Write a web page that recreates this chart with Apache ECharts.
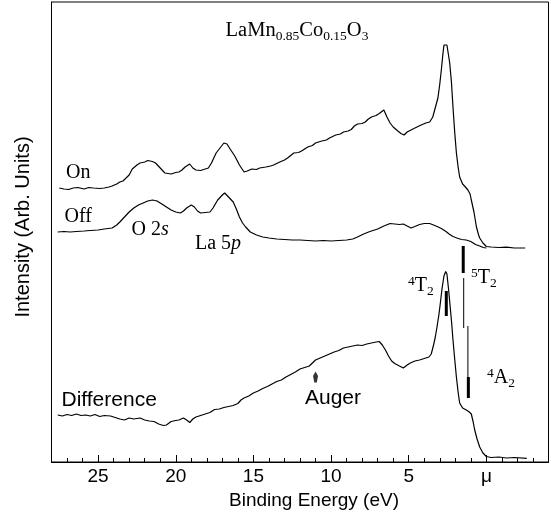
<!DOCTYPE html>
<html>
<head>
<meta charset="utf-8">
<script src="https://cdn.jsdelivr.net/npm/echarts@6/dist/echarts.min.js"></script>
<style>
  html, body { margin: 0; padding: 0; background: #fff; }
  #chart { width: 551px; height: 520px; }
</style>
</head>
<body>
<div id="chart"></div>
<script>
// binding energy (eV), intensity (arb. units, curves offset as in the figure)
const onSpectrum = [
  [27.5, 274], [27.2, 273], [26.9, 272.5], [26.6, 274], [26.3, 274.5], [25.9, 273], [25.6, 274.5],
  [25.3, 274], [24.9, 273.5], [24.6, 274], [24.3, 275], [24.1, 276], [23.8, 278], [23.6, 280],
  [23.4, 281], [23.2, 284], [23.0, 287], [22.8, 293], [22.5, 297], [22.3, 299], [22.0, 300],
  [21.8, 301.5], [21.5, 300.5], [21.3, 299], [21.0, 294], [20.7, 289], [20.5, 288.5], [20.3, 288],
  [20.0, 289.5], [19.8, 290], [19.6, 292], [19.4, 295], [19.1, 298], [18.9, 294], [18.7, 292],
  [18.4, 291.5], [18.2, 292.5], [17.9, 294], [17.7, 299], [17.4, 309], [17.1, 315], [16.9, 319],
  [16.7, 318], [16.5, 313], [16.2, 306], [15.9, 297], [15.6, 290], [15.4, 291], [15.1, 293],
  [14.8, 292.5], [14.6, 294], [14.2, 295], [13.9, 296], [13.7, 297], [13.3, 300], [13.0, 302],
  [12.8, 304], [12.4, 309], [12.1, 309.5], [11.9, 311], [11.5, 315], [11.2, 316.5], [11.0, 319],
  [10.6, 321], [10.3, 322], [10.1, 324], [9.7, 327], [9.4, 328], [9.2, 330], [8.9, 331],
  [8.7, 332.5], [8.5, 336], [8.3, 338], [8.0, 338.5], [7.8, 340], [7.6, 343], [7.4, 345],
  [7.1, 346.5], [6.9, 348.5], [6.6, 352], [6.4, 345], [6.2, 339], [6.0, 335], [5.7, 331],
  [5.5, 328.5], [5.3, 327], [5.1, 330], [5.0, 332], [4.6, 334], [4.2, 337], [3.9, 339],
  [3.65, 340], [3.45, 345], [3.33, 352], [3.12, 364], [3.0, 378], [2.9, 392], [2.8, 408],
  [2.73, 417], [2.64, 419], [2.54, 417], [2.45, 408], [2.36, 399], [2.25, 380], [2.15, 355],
  [2.04, 330], [1.93, 309], [1.82, 295], [1.72, 285], [1.53, 278], [1.35, 275], [1.19, 272],
  [1.05, 268], [0.97, 262], [0.8, 250], [0.64, 235], [0.5, 227], [0.43, 224], [0.22, 219],
  [0, 215.5], [-0.3, 215], [-0.8, 214.5], [-1.3, 214.8], [-1.8, 214], [-2.5, 214]
];

const offSpectrum = [
  [27.6, 230], [27.2, 230.5], [26.8, 230], [26.4, 230.5], [25.9, 231], [25.5, 231.5], [25.0, 232],
  [24.6, 233], [24.1, 234], [23.8, 237], [23.6, 240], [23.3, 245], [23.0, 250], [22.7, 254],
  [22.4, 257], [22.1, 259], [21.8, 261], [21.5, 262], [21.2, 261], [20.9, 258], [20.6, 255],
  [20.3, 252], [20.0, 250], [19.7, 249], [19.5, 251], [19.3, 254], [19.0, 257], [18.8, 255],
  [18.6, 251], [18.4, 249], [18.1, 249.5], [17.8, 250], [17.6, 254], [17.3, 262], [17.0, 267],
  [16.85, 269], [16.6, 265], [16.3, 260], [16.1, 253], [15.9, 245], [15.7, 239], [15.5, 235],
  [15.2, 230], [14.8, 227], [14.4, 225], [14.0, 224], [13.5, 223], [13.0, 222.5], [12.5, 222],
  [12.0, 222], [11.5, 221.5], [11.0, 221], [10.5, 221.5], [10.0, 221], [9.5, 221.5], [9.0, 222],
  [8.6, 223], [8.3, 225], [7.9, 228], [7.5, 230.5], [7.0, 233], [6.6, 236], [6.2, 238.5],
  [5.9, 238], [5.6, 237.5], [5.35, 238], [5.1, 236], [4.85, 234], [4.6, 235.5], [4.3, 237.5],
  [4.0, 238.5], [3.65, 238.5], [3.4, 237], [3.1, 235], [2.9, 233.5], [2.6, 230.5], [2.4, 228],
  [2.15, 225.5], [1.9, 224], [1.6, 222.5], [1.3, 222], [1.0, 220.5], [0.7, 217.5], [0.43, 216],
  [0.2, 214.5], [0, 214]
];

const differenceSpectrum = [
  [27.6, 47], [27.3, 46], [27.0, 47.5], [26.7, 46.5], [26.4, 48], [26.1, 46.5], [25.8, 47],
  [25.5, 46], [25.2, 47.5], [24.9, 45.5], [24.6, 46.5], [24.2, 46], [23.9, 44.5], [23.6, 43],
  [23.3, 42], [23.0, 44], [22.7, 43], [22.3, 44], [22.0, 42], [21.7, 41], [21.4, 40.5],
  [21.1, 38], [20.8, 36.5], [20.6, 37], [20.3, 40.5], [20.0, 41.5], [19.8, 42], [19.5, 44],
  [19.3, 42], [19.1, 39.5], [18.9, 43], [18.7, 45], [18.4, 46.5], [18.1, 48], [17.8, 49.5],
  [17.5, 52.5], [17.2, 53], [16.9, 54.5], [16.6, 55.5], [16.3, 56.5], [16.0, 58.5], [15.8, 62],
  [15.6, 64], [15.3, 66], [15.0, 69], [14.7, 71], [14.4, 73.5], [14.1, 75.5], [13.8, 78],
  [13.5, 80.5], [13.2, 82], [12.9, 85], [12.6, 87.5], [12.3, 90], [12.0, 93], [11.7, 94.5],
  [11.4, 96], [11.0, 102], [10.7, 104], [10.4, 106], [10.1, 108], [9.8, 110], [9.5, 111.5],
  [9.2, 114], [8.9, 115], [8.6, 116], [8.3, 117], [8.0, 116.5], [7.7, 118], [7.4, 119],
  [7.1, 120], [6.9, 120.5], [6.7, 117], [6.5, 112], [6.3, 106], [6.1, 101], [5.9, 98.5],
  [5.6, 96], [5.35, 94], [5.1, 97], [4.9, 99], [4.6, 101], [4.3, 102], [4.0, 103.5], [3.7, 105],
  [3.55, 108], [3.4, 117], [3.3, 124], [3.2, 133], [3.05, 148], [2.94, 162], [2.85, 174],
  [2.73, 186], [2.62, 190.5], [2.54, 188], [2.43, 172], [2.33, 155], [2.24, 140], [2.15, 122],
  [2.04, 103], [1.93, 85], [1.82, 70], [1.72, 59], [1.53, 54], [1.29, 52], [1.1, 50], [0.97, 48],
  [0.85, 40], [0.75, 32], [0.6, 23], [0.43, 15], [0.22, 9], [0, 5.5], [-0.3, 4.5], [-0.8, 5],
  [-1.3, 4], [-1.8, 4.5], [-2.6, 3.7]
];

// multiplet positions (eV) drawn as vertical bars
const bar4T2 = [[2.58, 171], [2.58, 146]];
const bar5T2 = [[1.49, 216], [1.49, 189]];
const line5T2 = [[1.46, 184], [1.46, 134]];
const line4A2 = [[1.19, 136], [1.19, 67]];
const bar4A2 = [[1.16, 85], [1.16, 64]];
const augerMark = [[11.0, 85]];

const majorTicks = [0, 5, 10, 15, 20, 25];

const serif = '"Liberation Serif", "Times New Roman", serif';
const sans = '"Liberation Sans", Arial, sans-serif';

const chart = echarts.init(document.getElementById('chart'));

const curve = (data) => ({
  type: 'line',
  data: data,
  symbol: 'none',
  lineStyle: { color: '#000', width: 1.2 },
  silent: true,
});

const segment = (data, width) => ({
  type: 'line',
  data: data,
  symbol: 'none',
  lineStyle: { color: '#000', width: width },
  silent: true,
});

const gridBox = { left: 51.5, right: 2.5, top: 2, bottom: 58 };

const rich = {
  m: { fontFamily: serif, fontSize: 20, lineHeight: 24, fill: '#000' },
  t: { fontFamily: serif, fontSize: 20.5, lineHeight: 24, fill: '#000' },
  sub: { fontFamily: serif, fontSize: 13.5, lineHeight: 12, verticalAlign: 'bottom', fill: '#000' },
  sup: { fontFamily: serif, fontSize: 13.5, lineHeight: 12, verticalAlign: 'top', fill: '#000' },
  i: { fontFamily: serif, fontSize: 20, lineHeight: 24, fontStyle: 'italic', fill: '#000' },
};

const label = (text, x, y, font, size, align) => ({
  type: 'text', x: x, y: y, silent: true,
  style: {
    text: text, fontFamily: font, fontSize: size, fill: '#000',
    align: align || 'left', verticalAlign: 'middle', rich: rich,
  },
});

chart.setOption({
  animation: false,
  grid: [
    Object.assign({ show: true, borderColor: '#000', borderWidth: 1 }, gridBox),
    Object.assign({ show: false }, gridBox),
  ],
  xAxis: [
    {
      type: 'value', gridIndex: 0, min: -4, max: 28, inverse: true,
      axisLine: { onZero: false, lineStyle: { color: '#000', width: 1 } },
      axisTick: { inside: true, length: 7, customValues: majorTicks, lineStyle: { color: '#000' } },
      axisLabel: {
        customValues: majorTicks, margin: 5, color: '#000', fontFamily: sans, fontSize: 19,
        formatter: (v) => (v === 0 ? 'μ' : String(v)),
      },
      splitLine: { show: false },
    },
    {
      type: 'value', gridIndex: 1, min: -4, max: 28, interval: 1, inverse: true,
      axisLine: { show: false, onZero: false },
      axisTick: { inside: true, length: 4, lineStyle: { color: '#000' } },
      axisLabel: { show: false },
      splitLine: { show: false },
    },
  ],
  yAxis: [
    {
      type: 'value', gridIndex: 0, min: 0, max: 460,
      axisLine: { show: true, onZero: false, lineStyle: { color: '#000' } },
      axisTick: { show: false }, axisLabel: { show: false }, splitLine: { show: false },
    },
    {
      type: 'value', gridIndex: 1, min: 0, max: 460, show: false,
      axisLine: { onZero: false },
    },
  ],
  series: [
    curve(onSpectrum),
    curve(offSpectrum),
    curve(differenceSpectrum),
    segment(bar4T2, 3),
    segment(bar5T2, 3),
    segment(line5T2, 1),
    segment(line4A2, 1),
    segment(bar4A2, 3),
    {
      type: 'scatter',
      data: augerMark,
      symbol: 'path://M2,0 L4,5 L3,12 L1,12 L0,5 Z',
      symbolSize: [5, 11],
      itemStyle: { color: '#000' },
      silent: true,
    },
  ],
  graphic: [
    label('{t|LaMn}{sub|0.85}{t|Co}{sub|0.15}{t|O}{sub|3}', 297, 31, serif, 20.5, 'center'),
    label('On', 66, 173, serif, 20),
    label('Off', 64.5, 216.5, serif, 20),
    label('{m|O 2}{i|s}', 131.5, 229.5, serif, 20),
    label('{m|La 5}{i|p}', 195, 243.5, serif, 20),
    label('{sup|4}{m|T}{sub|2}', 408, 286, serif, 20),
    label('{sup|5}{m|T}{sub|2}', 471, 278, serif, 20),
    label('{sup|4}{m|A}{sub|2}', 487, 378, serif, 20),
    label('Difference', 61.5, 400, sans, 21),
    label('Auger', 305, 398.5, sans, 21),
    label('Binding Energy (eV)', 314, 501, sans, 19, 'center'),
    {
      type: 'text', x: 23, y: 227, rotation: Math.PI / 2, silent: true,
      style: { text: 'Intensity (Arb. Units)', fontFamily: sans, fontSize: 20, fill: '#000', align: 'center', verticalAlign: 'middle' },
    },
  ],
});
</script>
</body>
</html>
